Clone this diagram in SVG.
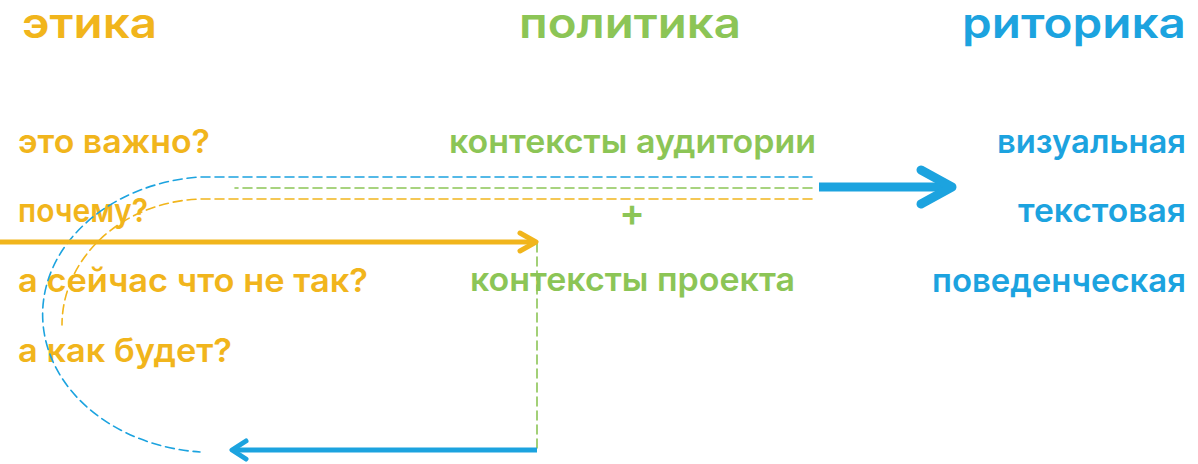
<svg xmlns="http://www.w3.org/2000/svg" width="1198" height="464" viewBox="0 0 1198 464">
<style>
text{font-family:Inter,"Noto Sans","Liberation Sans",sans-serif;font-weight:600;}
.t{font-size:42px;}
.b{font-size:33px;}
.y{fill:#F1B51C;}
.g{fill:#8CC556;}
.c{fill:#1CA3DF;}
.dash{fill:none;stroke-width:1.6;stroke-dasharray:9 5;}
</style>
<rect width="1198" height="464" fill="#ffffff"/>
<g id="titles">
<text id="t-ethics" class="t y" x="22" y="38" textLength="135" lengthAdjust="spacingAndGlyphs">этика</text>
<text id="t-politics" class="t g" x="519" y="38" textLength="222" lengthAdjust="spacingAndGlyphs">политика</text>
<text id="t-rhetoric" class="t c" x="962" y="38" textLength="224" lengthAdjust="spacingAndGlyphs">риторика</text>
</g>
<g id="ethics">
<text class="b y" x="18" y="153" textLength="192" lengthAdjust="spacingAndGlyphs">это важно?</text>
<text class="b y" x="18" y="222" textLength="130" lengthAdjust="spacingAndGlyphs">почему?</text>
<text class="b y" x="18" y="292" textLength="350" lengthAdjust="spacingAndGlyphs">а сейчас что не так?</text>
<text class="b y" x="18" y="362" textLength="214" lengthAdjust="spacingAndGlyphs">а как будет?</text>
</g>
<g id="politics">
<text class="g" x="632" y="226" font-weight="300" font-size="38" text-anchor="middle">+</text>
<text class="b g" x="449" y="153" textLength="367" lengthAdjust="spacingAndGlyphs">контексты аудитории</text>
<text class="b g" x="470" y="291" textLength="325" lengthAdjust="spacingAndGlyphs">контексты проекта</text>
</g>
<g id="rhetoric">
<text class="b c" x="997" y="153" textLength="189" lengthAdjust="spacingAndGlyphs">визуальная</text>
<text class="b c" x="1018" y="222" textLength="168" lengthAdjust="spacingAndGlyphs">текстовая</text>
<text class="b c" x="932" y="292" textLength="254" lengthAdjust="spacingAndGlyphs">поведенческая</text>
</g>
<g id="connectors" fill="none" stroke-linecap="round" stroke-linejoin="round">
<path class="dash" stroke="#1CA3DF" d="M812 177 L200 177 A172 138 0 0 0 200 452"/>
<path class="dash" stroke="#8CC556" d="M812 188 L235 188"/>
<path class="dash" stroke="#F1B51C" d="M812 199 L205 199 A143 126 0 0 0 62 325"/>
<path class="dash" stroke="#8CC556" d="M537 243 L537 448"/>
<path stroke="#F1B51C" stroke-width="5" stroke-linecap="butt" d="M0 242 L535 242"/>
<path stroke="#F1B51C" stroke-width="5" d="M520 233 L536 242 L520 251"/>
<path stroke="#1CA3DF" stroke-width="5" stroke-linecap="butt" d="M537 450 L233 450"/>
<path stroke="#1CA3DF" stroke-width="5" d="M246 441 L232 450 L246 459"/>
<path stroke="#1CA3DF" stroke-width="9" stroke-linecap="butt" d="M819 187 L952 187"/>
<path stroke="#1CA3DF" stroke-width="9" d="M921 170 L952 187 L921 204"/>
</g>
</svg>
